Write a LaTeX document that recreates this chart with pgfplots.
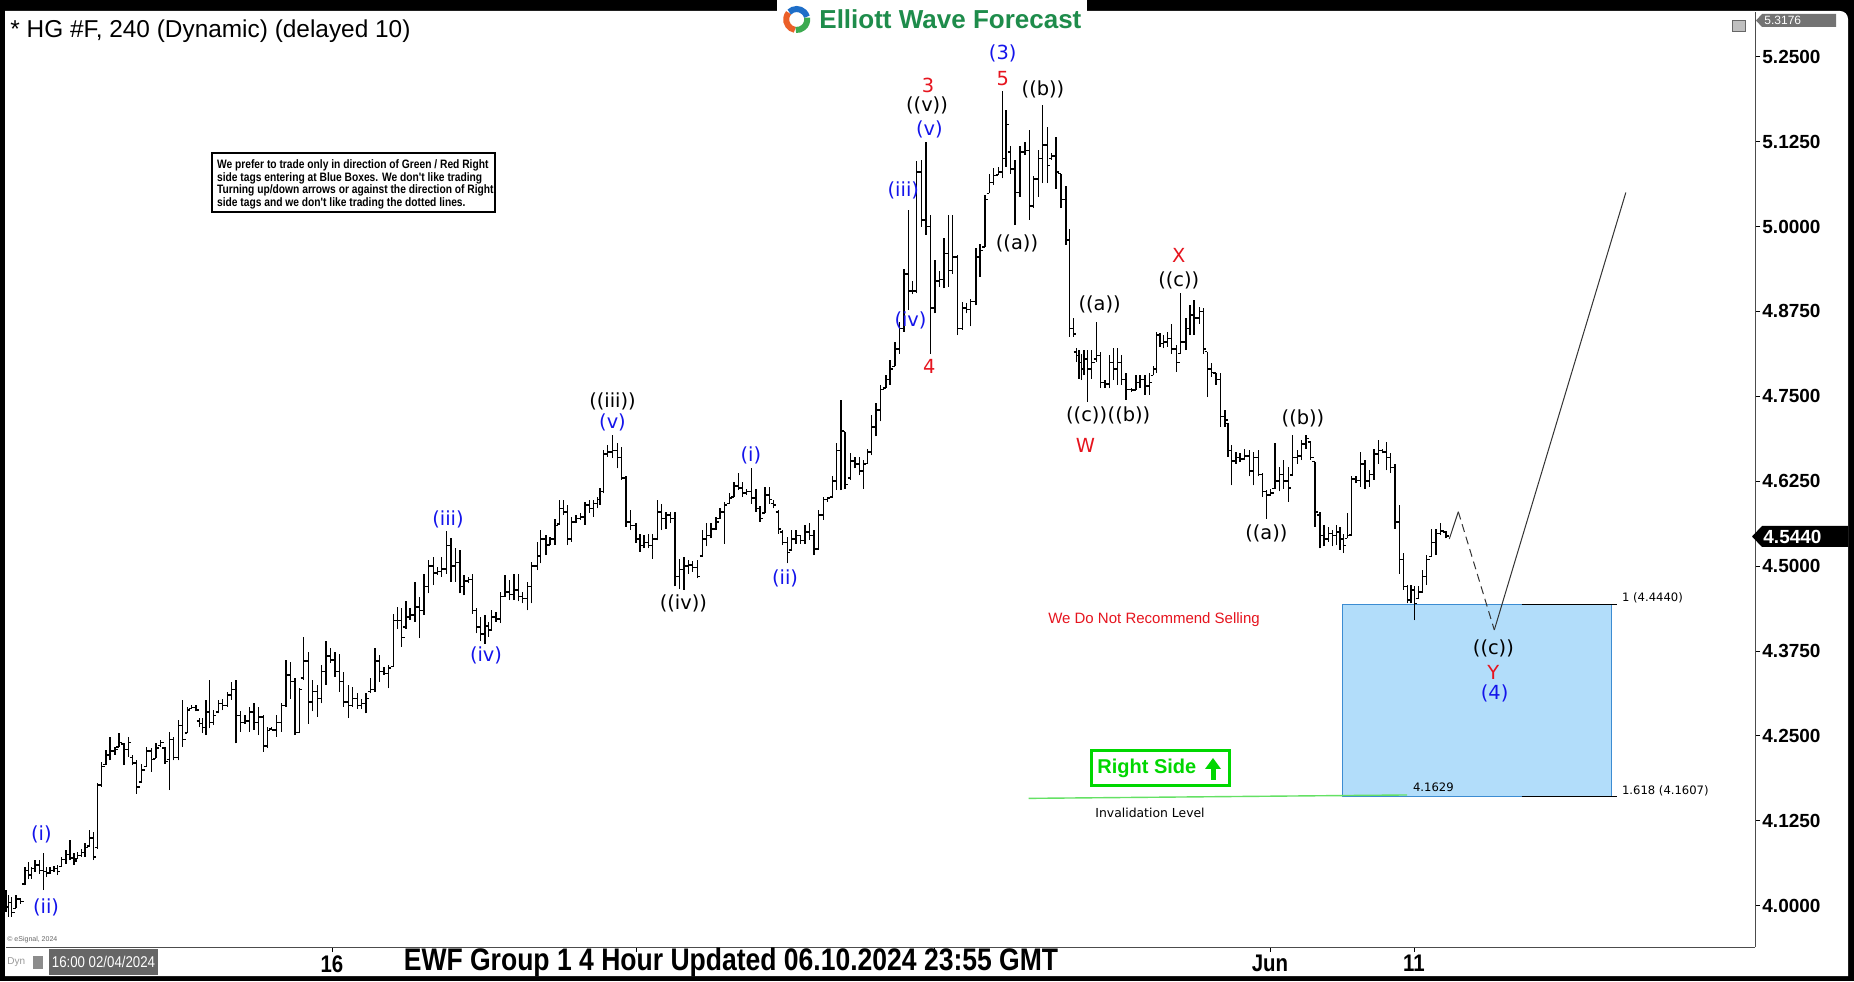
\documentclass[border=0pt]{standalone}
\usepackage{pgfplots}
\pgfplotsset{compat=1.18}
\usepackage{pgfplotstable}
\usepackage{fontspec}
\setmainfont{Liberation Sans}
\newfontfamily\lab{DejaVu Sans}
\newfontfamily\ewff[FakeStretch=0.85]{Liberation Sans}
\newfontfamily\narrowb[FakeStretch=0.84]{Liberation Sans}
\definecolor{ewblue}{RGB}{20,20,235}
\definecolor{ewred}{RGB}{230,20,30}
\definecolor{boxfill}{RGB}{178,221,250}
\definecolor{boxline}{RGB}{60,140,210}
\definecolor{rsgreen}{RGB}{0,215,0}
\definecolor{invgreen}{RGB}{100,225,100}
\definecolor{logogreen}{RGB}{30,140,75}
\pgfdeclareplotmark{otick}{\pgfpathmoveto{\pgfqpoint{-1.4pt}{0pt}}\pgfpathlineto{\pgfqpoint{0pt}{0pt}}\pgfusepathqstroke}
\pgfdeclareplotmark{ctick}{\pgfpathmoveto{\pgfqpoint{0pt}{0pt}}\pgfpathlineto{\pgfqpoint{1.4pt}{0pt}}\pgfusepathqstroke}
\pgfplotstableread{
x h l o c
6 4.023 3.991 4.020 3.998
8.3 4.015 3.984 3.998 4.005
11.7 4.013 3.984 4.005 3.990
16 4.015 3.996 3.996 4.010
20.7 4.011 4.003 4.010 4.006
25 4.057 4.030 4.032 4.052
28.3 4.065 4.040 4.052 4.045
31.7 4.057 4.040 4.045 4.055
35 4.067 4.050 4.055 4.060
39.3 4.067 4.047 4.060 4.052
43.3 4.077 4.023 4.052 4.050
46.7 4.057 4.042 4.050 4.048
50 4.057 4.047 4.048 4.052
54 4.058 4.050 4.052 4.055
57.3 4.060 4.045 4.055 4.050
61.7 4.072 4.057 4.058 4.068
66 4.082 4.062 4.068 4.075
70 4.096 4.067 4.075 4.070
74 4.077 4.060 4.070 4.066
77.3 4.079 4.069 4.069 4.074
81.7 4.084 4.072 4.074 4.078
85 4.092 4.072 4.078 4.086
89.3 4.111 4.087 4.088 4.100
93.3 4.109 4.067 4.100 4.072
97.3 4.180 4.084 4.086 4.178
101.7 4.212 4.175 4.178 4.205
106 4.229 4.207 4.208 4.222
110 4.249 4.214 4.222 4.228
115 4.234 4.222 4.228 4.230
119 4.254 4.234 4.234 4.240
124 4.239 4.207 4.238 4.230
128.3 4.249 4.219 4.230 4.240
132.7 4.222 4.207 4.218 4.210
136.7 4.214 4.165 4.210 4.175
141.7 4.209 4.182 4.182 4.200
146.7 4.234 4.205 4.205 4.228
151.7 4.232 4.197 4.228 4.215
156 4.239 4.217 4.217 4.232
160.7 4.244 4.234 4.236 4.240
165 4.234 4.209 4.232 4.212
169.3 4.256 4.170 4.215 4.245
173.3 4.249 4.214 4.245 4.218
178.3 4.273 4.214 4.218 4.265
182.7 4.303 4.234 4.265 4.245
187.3 4.293 4.254 4.254 4.288
191.7 4.295 4.290 4.290 4.292
196 4.295 4.286 4.292 4.288
199.3 4.276 4.263 4.272 4.268
202.7 4.276 4.254 4.268 4.262
206 4.303 4.251 4.262 4.285
209.3 4.332 4.261 4.285 4.270
213.3 4.288 4.266 4.270 4.280
218.3 4.303 4.283 4.285 4.298
222.7 4.305 4.288 4.298 4.295
227.3 4.315 4.293 4.295 4.310
231.7 4.330 4.303 4.310 4.318
236 4.332 4.239 4.318 4.280
240.7 4.286 4.256 4.280 4.270
245 4.281 4.268 4.270 4.272
249.3 4.293 4.256 4.272 4.285
254 4.298 4.259 4.285 4.270
258.3 4.293 4.251 4.270 4.278
263.3 4.281 4.227 4.278 4.235
267.3 4.263 4.232 4.235 4.258
271.7 4.263 4.258 4.260 4.259
276.7 4.281 4.249 4.259 4.270
281.7 4.298 4.256 4.270 4.295
286 4.362 4.293 4.295 4.340
290.7 4.359 4.305 4.340 4.330
295 4.335 4.251 4.330 4.255
299.3 4.320 4.254 4.255 4.318
303.3 4.396 4.332 4.335 4.360
308.3 4.374 4.268 4.360 4.300
312.7 4.332 4.286 4.300 4.315
317.3 4.325 4.278 4.315 4.305
321.7 4.354 4.298 4.305 4.345
326 4.389 4.325 4.345 4.368
330.7 4.379 4.357 4.368 4.362
335 4.374 4.337 4.362 4.345
339.3 4.371 4.315 4.345 4.330
343.3 4.344 4.293 4.330 4.300
348.3 4.325 4.276 4.300 4.295
352.7 4.322 4.293 4.295 4.305
357.3 4.313 4.290 4.305 4.295
361.7 4.305 4.290 4.295 4.298
366 4.313 4.283 4.298 4.305
370.7 4.335 4.313 4.315 4.318
375 4.379 4.315 4.318 4.360
379.3 4.369 4.330 4.360 4.345
384 4.352 4.340 4.345 4.342
388.3 4.354 4.320 4.342 4.350
393.3 4.430 4.352 4.352 4.420
397.3 4.440 4.408 4.420 4.420
401.7 4.438 4.381 4.420 4.395
406 4.448 4.408 4.410 4.425
410 4.438 4.421 4.425 4.428
415 4.477 4.418 4.428 4.440
419.3 4.455 4.394 4.440 4.435
424 4.489 4.428 4.435 4.470
428.3 4.509 4.460 4.470 4.500
433.3 4.514 4.472 4.500 4.490
437.3 4.499 4.487 4.490 4.492
441.7 4.514 4.484 4.492 4.496
446.7 4.551 4.489 4.496 4.530
451 4.541 4.477 4.530 4.500
455.7 4.526 4.477 4.500 4.505
460 4.524 4.460 4.505 4.470
464 4.487 4.457 4.470 4.478
468.3 4.484 4.475 4.478 4.480
472.7 4.489 4.430 4.480 4.435
476.7 4.438 4.401 4.435 4.410
480.7 4.425 4.389 4.410 4.400
485 4.428 4.386 4.400 4.412
488.3 4.418 4.396 4.412 4.405
491.7 4.435 4.406 4.406 4.425
496 4.433 4.418 4.425 4.422
500.7 4.462 4.416 4.422 4.455
505 4.487 4.455 4.455 4.462
509.3 4.479 4.450 4.462 4.458
514 4.489 4.450 4.458 4.465
518.3 4.489 4.448 4.465 4.455
522.7 4.462 4.445 4.455 4.452
527.3 4.477 4.435 4.452 4.470
531.7 4.506 4.445 4.470 4.500
537.3 4.536 4.494 4.500 4.515
540.7 4.553 4.504 4.515 4.540
546 4.546 4.516 4.540 4.530
550 4.543 4.531 4.531 4.540
555 4.570 4.531 4.540 4.560
559.3 4.597 4.561 4.562 4.585
563.3 4.597 4.575 4.585 4.580
567.3 4.590 4.531 4.580 4.540
571.7 4.573 4.536 4.540 4.565
576 4.575 4.563 4.565 4.570
580.7 4.578 4.568 4.570 4.572
585 4.595 4.561 4.572 4.590
589.3 4.597 4.578 4.590 4.585
593.3 4.597 4.573 4.585 4.592
597.3 4.602 4.585 4.592 4.598
600 4.615 4.590 4.598 4.610
603.3 4.671 4.607 4.610 4.665
607.3 4.678 4.661 4.665 4.668
612.7 4.693 4.659 4.668 4.670
617.3 4.681 4.644 4.670 4.660
621.7 4.676 4.627 4.660 4.630
626 4.632 4.558 4.630 4.565
630.7 4.583 4.553 4.565 4.560
636 4.563 4.534 4.560 4.540
640 4.548 4.521 4.540 4.530
644 4.546 4.526 4.530 4.535
648.3 4.548 4.526 4.535 4.530
652.7 4.548 4.511 4.530 4.540
657.3 4.597 4.538 4.540 4.580
661.7 4.592 4.553 4.580 4.570
666 4.580 4.555 4.570 4.575
670.7 4.580 4.563 4.575 4.570
675 4.580 4.470 4.570 4.485
679.3 4.511 4.467 4.485 4.495
684 4.514 4.465 4.495 4.500
688.3 4.509 4.489 4.500 4.502
692.7 4.507 4.492 4.502 4.498
697.3 4.509 4.482 4.498 4.485
702.7 4.553 4.514 4.515 4.540
706.7 4.563 4.529 4.540 4.545
711 4.563 4.541 4.545 4.555
716 4.573 4.553 4.555 4.565
720 4.585 4.570 4.570 4.580
724.3 4.595 4.533 4.580 4.590
729.3 4.607 4.592 4.592 4.600
734 4.624 4.602 4.602 4.618
738.3 4.637 4.612 4.618 4.615
742.7 4.624 4.602 4.615 4.608
746.7 4.614 4.605 4.608 4.610
751.7 4.644 4.592 4.610 4.600
756 4.614 4.580 4.600 4.585
760 4.588 4.565 4.585 4.570
765 4.617 4.578 4.578 4.605
769.3 4.617 4.592 4.605 4.598
773.3 4.597 4.585 4.592 4.590
778.3 4.582 4.548 4.580 4.555
782.7 4.553 4.531 4.550 4.535
787.3 4.543 4.504 4.535 4.520
791.7 4.553 4.524 4.524 4.540
796 4.553 4.533 4.540 4.545
800.7 4.546 4.533 4.545 4.538
805 4.560 4.533 4.538 4.550
809.3 4.563 4.539 4.550 4.545
814 4.553 4.516 4.545 4.525
818.3 4.582 4.524 4.525 4.575
823.3 4.602 4.568 4.575 4.598
827.3 4.602 4.595 4.598 4.600
832.7 4.632 4.602 4.602 4.625
836.7 4.681 4.612 4.625 4.670
841 4.745 4.612 4.670 4.700
845 4.698 4.614 4.698 4.620
850.7 4.666 4.627 4.630 4.655
855 4.661 4.644 4.655 4.650
859.3 4.661 4.634 4.650 4.640
863.3 4.656 4.614 4.640 4.650
867.7 4.673 4.651 4.651 4.668
871.7 4.722 4.663 4.668 4.705
876 4.740 4.691 4.705 4.730
880.7 4.767 4.713 4.730 4.760
886 4.782 4.762 4.762 4.775
890 4.804 4.767 4.775 4.790
895 4.830 4.794 4.794 4.820
899.3 4.860 4.813 4.820 4.850
904 4.938 4.845 4.850 4.930
908.3 5.024 4.877 4.930 4.905
912.7 4.920 4.900 4.905 4.905
916.7 5.096 4.902 4.905 5.080
921.7 5.098 5.000 5.080 5.010
926 5.125 4.988 5.010 5.000
930.7 5.017 4.813 5.000 4.880
935 4.951 4.872 4.880 4.920
939.3 4.934 4.911 4.920 4.922
944 4.983 4.909 4.922 4.960
948.3 5.017 4.911 4.960 4.935
952.7 5.017 4.930 4.935 4.955
957.3 4.958 4.840 4.955 4.850
962.7 4.889 4.848 4.850 4.880
966.7 4.887 4.872 4.880 4.878
970.7 4.894 4.853 4.878 4.890
976 4.968 4.884 4.890 4.955
980 4.975 4.926 4.955 4.965
985 5.046 4.970 4.970 5.040
989.3 5.078 5.049 5.049 5.065
993.3 5.086 5.061 5.065 5.075
998.3 5.088 5.076 5.076 5.080
1002.7 5.199 5.071 5.080 5.100
1006 5.172 5.088 5.100 5.150
1010.7 5.118 5.078 5.110 5.085
1015 5.098 5.002 5.085 5.050
1020 5.118 5.044 5.050 5.110
1025 5.125 5.105 5.110 5.112
1029.3 5.142 5.010 5.112 5.030
1033.3 5.074 5.027 5.030 5.070
1038.3 5.113 5.044 5.070 5.100
1042.7 5.179 5.064 5.100 5.120
1047.3 5.147 5.064 5.120 5.090
1051.7 5.108 5.098 5.100 5.104
1056 5.132 5.056 5.104 5.080
1061 5.078 5.027 5.078 5.040
1066 5.059 4.973 5.040 4.980
1069.3 4.997 4.838 4.980 4.850
1073.3 4.865 4.838 4.850 4.842
1076.5 4.821 4.801 4.815 4.810
1079 4.818 4.776 4.810 4.800
1081.5 4.813 4.774 4.800 4.790
1084 4.818 4.781 4.790 4.805
1087.3 4.818 4.742 4.805 4.790
1091.7 4.818 4.776 4.790 4.800
1096.5 4.860 4.801 4.805 4.810
1100.7 4.816 4.762 4.810 4.770
1105 4.774 4.762 4.770 4.768
1109.3 4.811 4.762 4.768 4.800
1113.3 4.821 4.774 4.800 4.790
1117.3 4.821 4.767 4.790 4.800
1121.7 4.811 4.767 4.800 4.775
1126 4.784 4.745 4.775 4.760
1131.7 4.762 4.757 4.760 4.759
1136 4.781 4.759 4.759 4.770
1140 4.781 4.762 4.770 4.775
1145 4.781 4.752 4.775 4.765
1149.3 4.784 4.752 4.765 4.770
1153.3 4.794 4.781 4.781 4.790
1156.5 4.845 4.784 4.790 4.840
1160 4.843 4.823 4.840 4.828
1163.5 4.840 4.821 4.828 4.830
1167.3 4.845 4.823 4.830 4.835
1171.7 4.857 4.813 4.835 4.820
1176.7 4.826 4.786 4.820 4.800
1180.7 4.902 4.813 4.813 4.830
1186 4.865 4.818 4.830 4.850
1190 4.884 4.840 4.850 4.870
1194 4.892 4.840 4.870 4.865
1199.3 4.882 4.857 4.865 4.875
1203.3 4.880 4.813 4.875 4.820
1207.3 4.816 4.749 4.816 4.790
1211.7 4.799 4.779 4.790 4.785
1216 4.784 4.767 4.784 4.775
1220.7 4.784 4.705 4.775 4.720
1225 4.730 4.705 4.720 4.715
1228 4.710 4.661 4.710 4.670
1231.7 4.678 4.619 4.670 4.655
1236 4.668 4.651 4.655 4.660
1240 4.666 4.654 4.660 4.658
1244.3 4.673 4.656 4.658 4.662
1249.3 4.671 4.632 4.662 4.640
1253.3 4.668 4.619 4.640 4.660
1258.3 4.671 4.632 4.660 4.635
1262.7 4.637 4.602 4.635 4.610
1266.7 4.612 4.570 4.610 4.605
1270.7 4.614 4.605 4.605 4.608
1275 4.681 4.614 4.614 4.625
1279.3 4.646 4.610 4.625 4.635
1283.3 4.656 4.614 4.635 4.625
1288.3 4.646 4.595 4.625 4.615
1292.7 4.693 4.634 4.634 4.660
1297.3 4.671 4.651 4.660 4.662
1301.7 4.686 4.656 4.662 4.680
1306 4.693 4.673 4.680 4.688
1310.7 4.683 4.656 4.683 4.660
1315 4.654 4.558 4.654 4.580
1320 4.580 4.526 4.575 4.545
1324 4.560 4.529 4.545 4.540
1328.3 4.558 4.536 4.540 4.548
1332.7 4.553 4.529 4.548 4.545
1336.7 4.560 4.531 4.545 4.550
1340 4.558 4.524 4.550 4.540
1343.3 4.548 4.519 4.540 4.530
1347.3 4.578 4.541 4.541 4.545
1351.7 4.632 4.546 4.546 4.628
1356 4.632 4.622 4.628 4.626
1360.7 4.668 4.617 4.626 4.650
1365 4.656 4.614 4.650 4.625
1369.3 4.641 4.617 4.625 4.635
1374 4.673 4.627 4.635 4.665
1378.3 4.686 4.651 4.665 4.670
1382.7 4.673 4.666 4.670 4.668
1386.7 4.683 4.641 4.668 4.660
1390.7 4.666 4.637 4.660 4.645
1395 4.651 4.555 4.645 4.565
1399.3 4.590 4.489 4.565 4.510
1403.3 4.519 4.465 4.510 4.470
1407.3 4.472 4.445 4.470 4.450
1411 4.472 4.445 4.450 4.465
1414.3 4.470 4.420 4.465 4.445
1418.3 4.470 4.452 4.452 4.462
1422.7 4.494 4.462 4.462 4.485
1426.7 4.516 4.472 4.485 4.510
1431.7 4.555 4.514 4.514 4.535
1436 4.555 4.516 4.535 4.548
1440.7 4.563 4.546 4.548 4.552
1446 4.551 4.541 4.550 4.544
}\bars
\begin{document}
\begin{tikzpicture}
% outer frame
\fill[black] (0pt,0pt) rectangle (927pt,490.5pt);
\fill[white] (2.5pt,2.5pt) -- (924pt,2.5pt) [rounded corners=4pt] -- (924pt,485pt) [sharp corners] -- (2.5pt,485pt) -- cycle;
\begin{axis}[
  at={(3pt,17pt)}, anchor=south west, scale only axis,
  width=874.5pt, height=467.5pt,
  xmin=6, xmax=1755, ymin=3.93914, ymax=5.31593,
  axis x line*=bottom, axis y line*=right,
  axis line style={draw=black!70, line width=0.5pt},
  tick align=outside, major tick length=2.5pt,
  tick style={black, line width=0.5pt},
  ytick={4,4.125,4.25,4.375,4.5,4.625,4.75,4.875,5,5.125,5.25},
  yticklabels={4.0000,4.1250,4.2500,4.3750,4.5000,4.6250,4.7500,4.8750,5.0000,5.1250,5.2500},
  yticklabel style={font=\bfseries\fontsize{9.5}{10}\selectfont, inner xsep=1pt},
  xtick={332,636,934,1270,1414},
  xticklabels={16,,,Jun,11},
  xticklabel style={font=\ewff\bfseries\fontsize{12}{12}\selectfont, inner ysep=1.5pt},
  clip=false,
]
% target box
\addplot[fill=boxfill, draw=boxline, line width=0.6pt] coordinates {(1342.3,4.1607) (1611.7,4.1607) (1611.7,4.444) (1342.3,4.444)} -- cycle;
\addplot[black, line width=0.6pt] coordinates {(1521.7,4.444) (1616.7,4.444)};
\addplot[black, line width=0.6pt] coordinates {(1521.7,4.1607) (1616.7,4.1607)};
% invalidation line
\addplot[invgreen, line width=0.7pt] coordinates {(1028.7,4.158) (1407,4.163)};
% OHLC bars
\addplot[black, line width=0.75pt, quiver={u=0, v=\thisrow{h}-\thisrow{l}}] table[x=x, y=l] {\bars};
\addplot[black, only marks, mark=otick, mark options={line width=0.75pt}] table[x=x, y=o] {\bars};
\addplot[black, only marks, mark=ctick, mark options={line width=0.75pt}] table[x=x, y=c] {\bars};
% projection
\addplot[black!80, line width=0.5pt] coordinates {(1449.3,4.540) (1458.3,4.580)};
\addplot[black!80, line width=0.5pt, dash pattern=on 4pt off 2.5pt] coordinates {(1458.3,4.580) (1494.3,4.406)};
\addplot[black!80, line width=0.5pt] coordinates {(1494.3,4.406) (1625.8,5.050)};
\end{axis}
\begin{scope}[x=0.5pt, y=-0.5pt, shift={(0pt,490.5pt)}]
% title
\node[anchor=base west, inner sep=0pt, font=\fontsize{12.2}{12}\selectfont] at (10,37.5) {* HG \#F, 240 (Dynamic) (delayed 10)};
% logo
\fill[white] (776.7,0) rectangle (1087,14);
\begin{scope}[shift={(796.7,19.5)}]
\draw[line width=3pt, color={rgb,255:red,235;green,95;blue,40}] (100:10.5) arc (100:220:10.5);
\draw[line width=3pt, color={rgb,255:red,30;green,110;blue,200}] (225:10.5) arc (225:345:10.5);
\draw[line width=3pt, color={rgb,255:red,60;green,170;blue,80}] (350:10.5) arc (350:455:10.5);
\end{scope}
\node[anchor=base west, inner sep=0pt, text=logogreen, font=\bfseries\fontsize{13}{13}\selectfont] at (819,28.8) {Elliott Wave Forecast};
% small icon top right
\draw[black!60, fill=black!25, line width=0.4pt] (1732,20) rectangle (1745,31);
% price tags
\fill[black!55] (1756,20.5) -- (1762,14) -- (1836,14) -- (1836,27) -- (1762,27) -- cycle;
\node[anchor=west, inner sep=0pt, text=white, font=\fontsize{6}{6}\selectfont] at (1764,20.5) {5.3176};
\fill[black] (1752,536.5) -- (1762,526) -- (1848,526) -- (1848,547) -- (1762,547) -- cycle;
\node[anchor=west, inner sep=0pt, text=white, font=\bfseries\fontsize{9.5}{10}\selectfont] at (1763,536.5) {4.5440};
% disclaimer box
\draw[black, line width=1pt, fill=white] (211.7,153.3) rectangle (495,211.7);
\begin{scope}[every node/.style={anchor=west, inner sep=0pt, font=\narrowb\bfseries\fontsize{6.1}{6}\selectfont}]
\node at (216.7,165) {We prefer to trade only in direction of Green / Red Right};
\node at (216.7,178) {side tags entering at Blue Boxes. We don't like trading};
\node at (216.7,190.7) {Turning up/down arrows or against the direction of Right};
\node at (216.7,203.3) {side tags and we don't like trading the dotted lines.};
\end{scope}
% wave labels
\begin{scope}[every node/.style={inner sep=0pt, font=\lab\fontsize{9.7}{10}\selectfont}]
\node[text=ewblue] at (41.4,834.8) {(i)};
\node[text=ewblue] at (46,907) {(ii)};
\node[text=ewblue] at (448,519) {(iii)};
\node[text=ewblue] at (486,655) {(iv)};
\node[text=black] at (612.5,401) {((iii))};
\node[text=ewblue] at (612.5,422) {(v)};
\node[text=black] at (683.4,603) {((iv))};
\node[text=ewblue] at (750.8,455) {(i)};
\node[text=ewblue] at (785,578) {(ii)};
\node[text=ewblue] at (903.3,190) {(iii)};
\node[text=ewblue] at (910.5,320) {(iv)};
\node[text=ewblue] at (929.4,129) {(v)};
\node[text=black] at (927,105) {((v))};
\node[text=ewred] at (928,85) {3};
\node[text=ewred] at (929.4,366.5) {4};
\node[text=ewblue] at (1002.7,53) {(3)};
\node[text=ewred] at (1002.7,79) {5};
\node[text=black] at (1043,89) {((b))};
\node[text=black] at (1017,243.6) {((a))};
\node[text=black] at (1099.6,304) {((a))};
\node[text=black] at (1086.6,415) {((c))};
\node[text=black] at (1129,415) {((b))};
\node[text=ewred] at (1085.5,445.8) {W};
\node[text=ewred] at (1178.8,255.4) {X};
\node[text=black] at (1178.8,280) {((c))};
\node[text=black] at (1303,418.6) {((b))};
\node[text=black] at (1266.4,533) {((a))};
\node[text=black] at (1493.4,648) {((c))};
\node[text=ewred] at (1493.4,672.8) {Y};
\node[text=ewblue] at (1494.6,693) {(4)};
\end{scope}
% other texts
\node[text=ewred, inner sep=0pt, font=\fontsize{7.5}{8}\selectfont] at (1154,620) {We Do Not Recommend Selling};
\draw[rsgreen, line width=1.5pt, fill=white] (1091,751) rectangle (1229,786);
\node[anchor=west, inner sep=0pt, text=rsgreen, font=\bfseries\fontsize{10}{10}\selectfont] at (1097,768.5) {Right Side};
\fill[rsgreen] (1210.5,768) rectangle (1215.5,780);
\fill[rsgreen] (1205,769) -- (1221,769) -- (1213,758) -- cycle;
\begin{scope}[every node/.style={anchor=west, inner sep=0pt, font=\lab\fontsize{5.8}{6}\selectfont}]
\node[font=\lab\fontsize{6.2}{6}\selectfont] at (1095,813) {Invalidation Level};
\node at (1412.7,787) {4.1629};
\node at (1621.7,598) {1 (4.4440)};
\node at (1621.7,790.7) {1.618 (4.1607)};
\end{scope}
% footer
\node[anchor=west, inner sep=0pt, text=black!60, font=\fontsize{3.5}{4}\selectfont] at (7,940) {\textcopyright\ eSignal, 2024};
\node[anchor=west, inner sep=0pt, text=black!40, font=\fontsize{5}{5}\selectfont] at (7,962) {Dyn};
\fill[black!45] (33,956) rectangle (43,969);
\fill[black!60] (49,949) rectangle (158,975);
\node[inner sep=0pt, text=white, font=\ewff\fontsize{7.8}{8}\selectfont] at (103.5,962) {16:00 02/04/2024};
\node[inner sep=0pt, font=\ewff\bfseries\fontsize{15.6}{16}\selectfont] at (731,962) {EWF Group 1 4 Hour Updated 06.10.2024 23:55 GMT};
\end{scope}
\end{tikzpicture}
\end{document}
